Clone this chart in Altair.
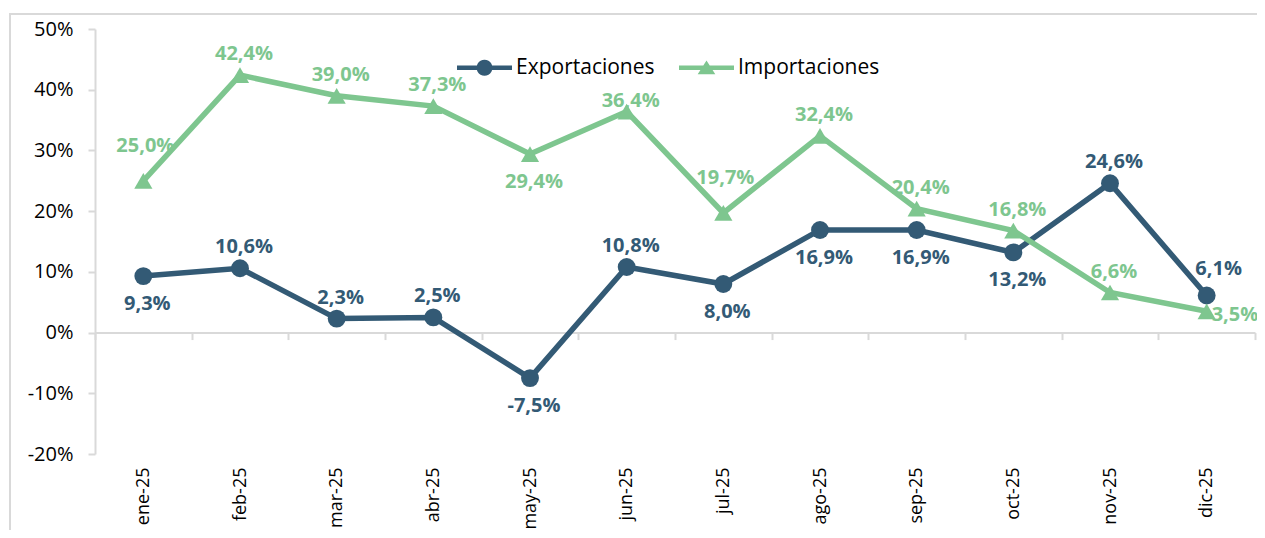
import json
import math
import altair as alt
import pandas as pd

# ---------------- data ----------------
months = ["ene-25", "feb-25", "mar-25", "abr-25", "may-25", "jun-25",
          "jul-25", "ago-25", "sep-25", "oct-25", "nov-25", "dic-25"]
exportaciones = [9.3, 10.6, 2.3, 2.5, -7.5, 10.8, 8.0, 16.9, 16.9, 13.2, 24.6, 6.1]
importaciones = [25.0, 42.4, 39.0, 37.3, 29.4, 36.4, 19.7, 32.4, 20.4, 16.8, 6.6, 3.5]
export_label_side = ["below", "above", "above", "above", "below", "above",
                     "below", "below", "below", "below", "above", "above_right"]
import_label_side = ["above_far", "above", "above", "above", "below", "above_near",
                     "above_far", "above", "above", "above", "above", "right"]
series_names = ["Exportaciones", "Importaciones"]
series_colors = ["#335a75", "#7ec68f"]
series_shapes = ["circle", "triangle-up"]
y_ticks = [-20, -10, 0, 10, 20, 30, 40, 50]

FONT = "Open Sans"

rows = []
for name, vals, sides in [(series_names[0], exportaciones, export_label_side),
                          (series_names[1], importaciones, import_label_side)]:
    for i, (m, v, s) in enumerate(zip(months, vals, sides)):
        rows.append({
            "idx": i,
            "month": m,
            "series": name,
            "value": v / 100.0,
            "label": f"{v:.1f}".replace(".", ",") + "%",
            "side": s,
        })
df = pd.DataFrame(rows)

# ---------------- scales / axes ----------------
x_scale = alt.Scale(domain=[-0.5, len(months) - 0.5], nice=False, zero=False)
y_scale = alt.Scale(domain=[y_ticks[0] / 100, y_ticks[-1] / 100], nice=False, zero=False)
color_scale = alt.Scale(domain=series_names, range=series_colors)

# legend symbols: a line with a circle / triangle marker (fill-only polygons)
bar = "M-1,-0.085L1,-0.085L1,0.085L-1,0.085Z"
circ_pts = [(0.29 * math.cos(2 * math.pi * k / 24), 0.29 * math.sin(2 * math.pi * k / 24))
            for k in range(24)]
circle_path = "M" + "L".join(f"{px:.3f},{py:.3f}" for px, py in circ_pts) + "Z"
tri_path = "M0,-0.26L0.32,0.24L-0.32,0.24Z"
shape_scale = alt.Scale(domain=series_names, range=[bar + " " + circle_path, bar + " " + tri_path])

GRID = "#d9d9d9"
label_expr = json.dumps(months) + "[round(datum.value)]"

x_axis_labels = alt.Axis(
    orient="bottom", values=list(range(len(months))), labelExpr=label_expr,
    domain=False, ticks=False, tickSize=0, grid=False, labelAngle=-90,
    labelPadding=13, labelFont=FONT, labelFontSize=18, labelColor="#000000",
    title=None,
)
zero_offset = -425 * (0 - y_ticks[0]) / (y_ticks[-1] - y_ticks[0])
x_axis_zero = alt.Axis(
    orient="bottom", offset=zero_offset,
    values=[i - 0.5 for i in range(len(months) + 1)],
    labels=False, domain=True, domainColor=GRID, domainWidth=2,
    ticks=True, tickColor=GRID, tickWidth=2, tickSize=7, grid=False,
    title=None,
)
y_axis = alt.Axis(
    values=[t / 100 for t in y_ticks], labelExpr="round(datum.value*100) + '%'",
    domain=True, domainColor=GRID, domainWidth=2, ticks=True, tickColor=GRID,
    tickWidth=2, tickSize=7, labelPadding=15, grid=False, labelFont=FONT,
    labelFontSize=20, labelColor="#000000", title=None,
)


def xy(x_axis=None):
    return dict(
        x=alt.X("idx:Q", scale=x_scale, axis=x_axis),
        y=alt.Y("value:Q", scale=y_scale, axis=y_axis),
    )


base = alt.Chart(df)
layers = []

# frame around the whole chart
layers.append(
    alt.Chart(alt.Data(values=[{}])).mark_rect(
        fillOpacity=0, stroke=GRID, strokeWidth=2
    ).encode(x=alt.value(-85), x2=alt.value(1250), y=alt.value(-15), y2=alt.value(600))
)

side_offsets = {
    "above": dict(align="center", dx=4, dy=-21),
    "above_near": dict(align="center", dx=4, dy=-11),
    "above_far": dict(align="center", dx=2, dy=-35),
    "above_right": dict(align="center", dx=12, dy=-27),
    "below": dict(align="center", dx=4, dy=28),
    "right": dict(align="left", dx=5, dy=4),
}

for k, (name, col, shp) in enumerate(zip(series_names, series_colors, series_shapes)):
    sdata = base.transform_filter(alt.datum.series == name)
    layers.append(
        sdata.mark_line(strokeWidth=5.5, color=col).encode(
            **xy(x_axis_labels if k == 0 else None)
        )
    )
    layers.append(
        sdata.mark_point(shape=shp, filled=True, size=320 if k == 0 else 330,
                         opacity=1, color=col).encode(
            **xy(x_axis_zero if k == 1 else None)
        )
    )

for k, (name, col) in enumerate(zip(series_names, series_colors)):
    for side, opts in side_offsets.items():
        layers.append(
            base.transform_filter(
                (alt.datum.series == name) & (alt.datum.side == side)
            ).mark_text(
                font=FONT, fontSize=20, fontWeight="bold", baseline="middle",
                color=col, **opts
            ).encode(text="label:N", **xy())
        )

legend_def = alt.Legend(
    title=None, orient="none", legendX=362, legendY=11, direction="horizontal",
    symbolSize=3025, symbolStrokeWidth=0, symbolOpacity=1, labelFont=FONT,
    labelFontSize=21, labelColor="#000000", labelOffset=4, columnPadding=24,
)
layers.append(
    base.mark_point(filled=True, opacity=0).encode(
        color=alt.Color("series:N", scale=color_scale, legend=legend_def),
        shape=alt.Shape("series:N", scale=shape_scale, legend=legend_def),
        **xy(),
    )
)

chart = alt.layer(*layers).resolve_axis(x="independent").properties(
    width=1160, height=425,
    padding={"left": 87, "top": 21, "right": 2, "bottom": 76},
    autosize=alt.AutoSizeParams(type="none"),
    background="#ffffff",
).configure_view(stroke=None)

chart.save("out.html", embed_options={"renderer": "svg", "actions": False})
